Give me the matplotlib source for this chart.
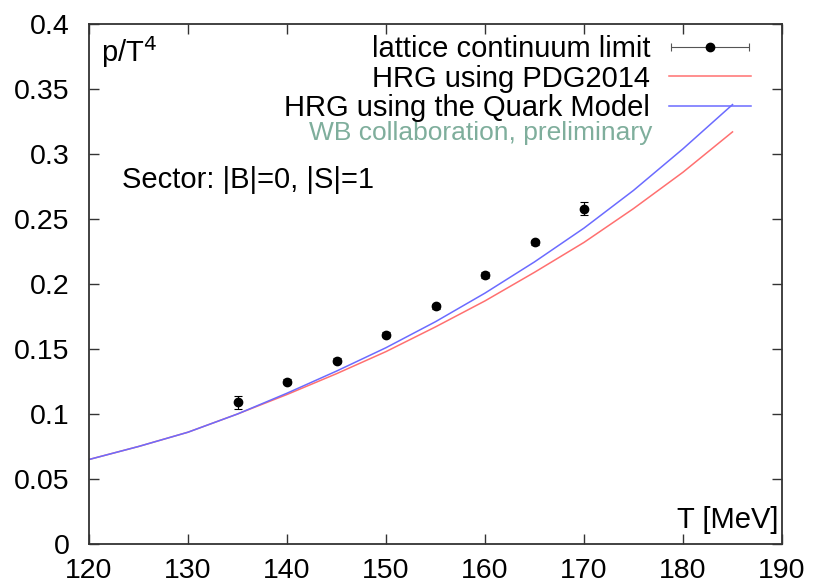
import numpy as np
import matplotlib
matplotlib.use("Agg")
import matplotlib.pyplot as plt
from matplotlib.legend_handler import HandlerErrorbar

plt.rcParams['font.family'] = ['Liberation Sans', 'DejaVu Sans']

# lattice data
T_lat = [135, 140, 145, 150, 155, 160, 165, 170]
p_lat = [0.109, 0.125, 0.141, 0.161, 0.183, 0.207, 0.232, 0.258]
p_err = [0.005, 0.002, 0.002, 0.002, 0.002, 0.002, 0.002, 0.005]

# HRG curves
T_hrg = [120, 125, 130, 135, 140, 145, 150, 155, 160, 165, 170, 175, 180, 185]
p_pdg = [0.065, 0.075, 0.086, 0.100, 0.115, 0.131, 0.148, 0.167, 0.187, 0.209,
         0.232, 0.258, 0.286, 0.317]
p_qm = [0.065, 0.075, 0.086, 0.100, 0.116, 0.133, 0.151, 0.171, 0.193, 0.217,
        0.243, 0.272, 0.304, 0.338]

xticks = [120, 130, 140, 150, 160, 170, 180, 190]
yticks = [0, 0.05, 0.1, 0.15, 0.2, 0.25, 0.3, 0.35, 0.4]
ytick_labels = ['0', '0.05', '0.1', '0.15', '0.2', '0.25', '0.3', '0.35', '0.4']

FS = 21
TFS = 20.5
fig = plt.figure(figsize=(8.13, 5.87), dpi=100)
ax = fig.add_axes([89/813, 1-544/587, (782-89)/813, (544-24)/587])

red = '#ff7070'
blue = '#6b6bff'
green = '#7fae9c'

ax.plot(T_hrg, p_pdg, color=red, lw=1.1, label='HRG using PDG2014', zorder=2)
ax.plot(T_hrg, p_qm, color=blue, lw=1.1, label='HRG using the Quark Model', zorder=2)
ax.errorbar(T_lat, p_lat, yerr=p_err, fmt='o', color='black', ms=6,
            elinewidth=0.8, capsize=3, capthick=0.8, zorder=3)
# legend proxy (horizontal error bar as in original legend)
h_lat = ax.errorbar([np.nan], [np.nan], xerr=[1], fmt='o', color='black', ms=6,
                    elinewidth=0.8, ecolor='#555555', capsize=3, capthick=0.8,
                    label='lattice continuum limit')

ax.set_xlim(120, 190)
ax.set_ylim(0, 0.4)
ax.set_xticks(xticks)
ax.set_xticklabels([str(t) for t in xticks])
ax.set_yticks(yticks)
ax.set_yticklabels(ytick_labels)
ax.tick_params(direction='in', length=7, width=1, top=True, right=True,
               labelsize=TFS, color='#333333')
ax.tick_params(axis='x', pad=10)
ax.tick_params(axis='y', pad=14)
for s in ax.spines.values():
    s.set_linewidth(1.3)
    s.set_color('#333333')

handles, labels = ax.get_legend_handles_labels()
order = [labels.index('lattice continuum limit'), labels.index('HRG using PDG2014'),
         labels.index('HRG using the Quark Model')]
leg = ax.legend([handles[i] for i in order], [labels[i] for i in order],
                loc='upper right', bbox_to_anchor=(0.955, 0.978), frameon=False,
                markerfirst=False, fontsize=FS, handlelength=2.8,
                handletextpad=0.65, labelspacing=0.04, borderpad=0, borderaxespad=0,
                handler_map={type(h_lat): HandlerErrorbar(xerr_size=1.35)})

ax.text((652-89)/693, (544-140)/520, 'WB collaboration, preliminary',
        transform=ax.transAxes, ha='right', va='baseline', fontsize=19, color=green)
ax.text((101-89)/693, (544-62)/520, r'p/T$^4$', transform=ax.transAxes,
        ha='left', va='baseline', fontsize=FS)
ax.text((122-89)/693, (544-188)/520, 'Sector: |B|=0, |S|=1', transform=ax.transAxes,
        ha='left', va='baseline', fontsize=FS)
ax.text((778-89)/693, (544-528)/520, 'T [MeV]', transform=ax.transAxes,
        ha='right', va='baseline', fontsize=FS)

fig.savefig('out.png', dpi=100)
